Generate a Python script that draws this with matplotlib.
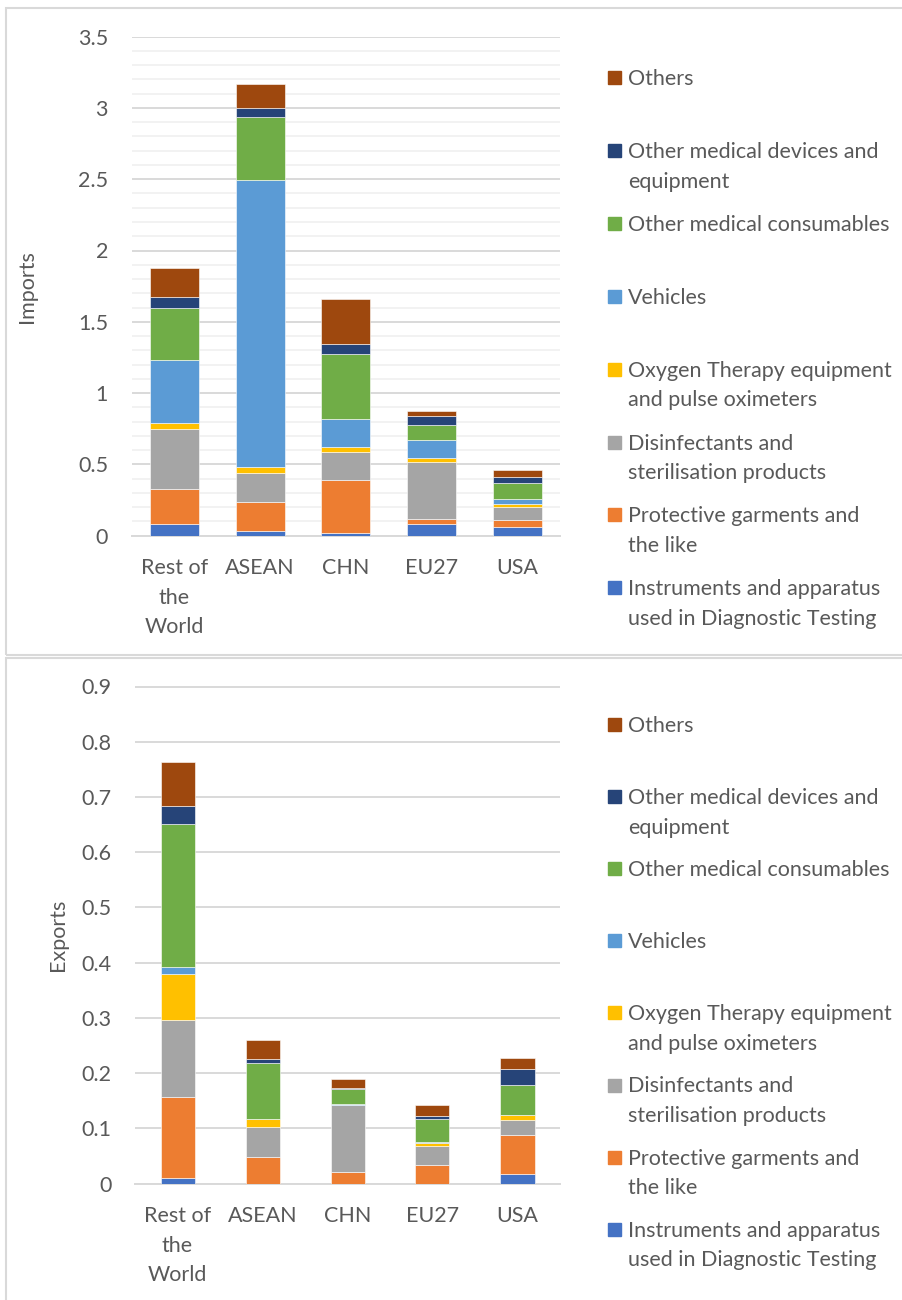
import matplotlib
matplotlib.use("Agg")
import matplotlib.pyplot as plt
from matplotlib.patches import Rectangle
from matplotlib.ticker import MultipleLocator
import numpy as np

plt.rcParams['font.family'] = ['Lato', 'DejaVu Sans']

countries = ["Rest of\nthe\nWorld", "ASEAN", "CHN", "EU27", "USA"]

series_names = [
    "Instruments and apparatus\nused in Diagnostic Testing",
    "Protective garments and\nthe like",
    "Disinfectants and\nsterilisation products",
    "Oxygen Therapy equipment\nand pulse oximeters",
    "Vehicles",
    "Other medical consumables",
    "Other medical devices and\nequipment",
    "Others",
]
colors = ["#4472C4", "#ED7D31", "#A5A5A5", "#FFC000",
          "#5B9BD5", "#70AD47", "#264478", "#9E480E"]

# imports, one list per series (RoW, ASEAN, CHN, EU27, USA)
imp_diag = [0.079, 0.033, 0.021, 0.084, 0.058]
imp_prot = [0.251, 0.205, 0.367, 0.035, 0.050]
imp_disinf = [0.418, 0.204, 0.201, 0.400, 0.095]
imp_oxy = [0.042, 0.040, 0.033, 0.023, 0.021]
imp_veh = [0.440, 2.012, 0.198, 0.127, 0.035]
imp_cons = [0.367, 0.442, 0.452, 0.109, 0.108]
imp_dev = [0.079, 0.066, 0.074, 0.059, 0.044]
imp_oth = [0.199, 0.166, 0.311, 0.040, 0.047]

# exports
exp_diag = [0.011, 0.000, 0.000, 0.000, 0.018]
exp_prot = [0.146, 0.049, 0.021, 0.034, 0.071]
exp_disinf = [0.139, 0.053, 0.121, 0.035, 0.026]
exp_oxy = [0.083, 0.015, 0.001, 0.005, 0.009]
exp_veh = [0.013, 0.000, 0.001, 0.001, 0.001]
exp_cons = [0.260, 0.101, 0.027, 0.043, 0.054]
exp_dev = [0.032, 0.008, 0.003, 0.004, 0.029]
exp_oth = [0.079, 0.034, 0.015, 0.021, 0.019]

imports = [imp_diag, imp_prot, imp_disinf, imp_oxy, imp_veh, imp_cons, imp_dev, imp_oth]
exports = [exp_diag, exp_prot, exp_disinf, exp_oxy, exp_veh, exp_cons, exp_dev, exp_oth]

TXT = "#595959"
GRID = "#d9d9d9"
W, H = 903, 1300
FS = 15.5
LS = 1.6

fig = plt.figure(figsize=(W / 100, H / 100), dpi=100)


def px(x0, y0, x1, y1):
    # pixel box (top-left origin) -> figure axes rect
    return [x0 / W, 1 - y1 / H, (x1 - x0) / W, (y1 - y0) / H]


def stacked(ax, data, width, ymax, major, minor, ylabel):
    x = np.arange(len(countries))
    bottom = np.zeros(len(countries))
    for vals, c in zip(data, colors):
        ax.bar(x, vals, width, bottom=bottom, color=c, edgecolor="white",
               linewidth=0.4, zorder=3)
        bottom += np.array(vals)
    ax.set_xlim(-0.5, len(countries) - 0.5)
    ax.set_ylim(0, ymax)
    ax.yaxis.set_major_locator(MultipleLocator(major))
    ax.yaxis.set_major_formatter(plt.FuncFormatter(lambda v, p: f"{v:g}"))
    ax.grid(axis="y", which="major", color=GRID, lw=1.4, zorder=0)
    if minor:
        ax.yaxis.set_minor_locator(MultipleLocator(minor))
        ax.grid(axis="y", which="minor", color="#f2f2f2", lw=1.4, zorder=0)
    ax.set_xticks(x)
    ax.set_xticklabels(countries, linespacing=LS)
    ax.tick_params(axis="both", which="both", length=0, labelsize=FS, colors=TXT)
    ax.tick_params(axis="y", pad=17)
    ax.tick_params(axis="x", pad=16)
    for s in ["top", "right", "left"]:
        ax.spines[s].set_visible(False)
    ax.spines["bottom"].set_color(GRID)
    ax.spines["bottom"].set_linewidth(1.4)
    ax.set_ylabel(ylabel, fontsize=FS, color=TXT)


def legend(y_first, step):
    for i, (name, c) in enumerate(zip(series_names[::-1], colors[::-1])):
        yc = y_first + i * step
        fig.patches.append(Rectangle((608 / W, 1 - (yc + 7) / H), 13 / W, 13 / H,
                                     transform=fig.transFigure, color=c))
        fig.text(628 / W, 1 - (yc - 8) / H, name, fontsize=FS, color=TXT,
                 va="top", ha="left", linespacing=LS)


# panel frames
for y0, y1 in [(8, 655), (658, 1306)]:
    fig.patches.append(Rectangle((6 / W, 1 - y1 / H), 910 / W, (y1 - y0) / H,
                                 transform=fig.transFigure, fill=False,
                                 edgecolor=GRID, lw=1.5))

ax1 = fig.add_axes(px(131.7, 36.6, 560, 535.7))
stacked(ax1, imports, 0.57, 3.5, 0.5, 0.1, "Imports")
ax1.yaxis.set_label_coords(-0.22, 0.5)
legend(77, 72.9)

ax2 = fig.add_axes(px(135, 686.5, 560, 1183.7))
stacked(ax2, exports, 0.40, 0.9, 0.1, None, "Exports")
ax2.yaxis.set_label_coords(-0.158, 0.5)
legend(724, 72.1)

fig.savefig("out.png", dpi=100)
